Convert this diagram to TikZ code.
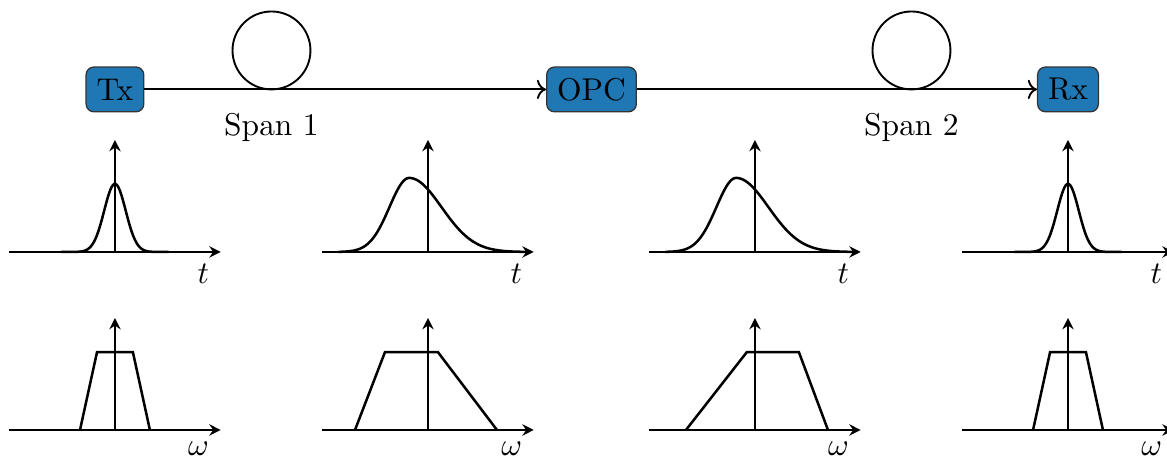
\documentclass[tikz,border=0pt]{standalone}
\usepackage{amsmath, amssymb}
\usepackage{tikz}
\usetikzlibrary{arrows.meta}
\definecolor{tabblue}{RGB}{31,119,180}

\begin{document}
\begin{tikzpicture}[
  block/.style={draw=black!80, fill=tabblue, rounded corners=2.5pt, minimum height=5mm},
  axis/.style={thick, -{Stealth[length=3.6pt, width=3.6pt, inset=1.2pt]}},
  pulse/.style={thick},
  link/.style={semithick, ->}
]
  \useasboundingbox (0,0) rectangle (13.025,5.1);
  % link
  \node[block] (tx) at (1.283,4.102) {Tx};
  \node[block] (opc) at (6.602,4.102) {OPC};
  \node[block] (rx) at (11.92,4.102) {Rx};
  \draw[link] (tx) -- (opc);
  \draw[link] (opc) -- (rx);
  % fibre spools
  \draw[semithick] (3.03,4.537) circle (0.435);
  \draw[semithick] (10.173,4.537) circle (0.435);
  \node (span1) at (3.03,3.683) {Span 1};
  \node (span2) at (10.173,3.683) {Span 2};
  % time domain, at Tx
  \begin{scope}[shift={(1.283,2.288)}]
    \draw[pulse] plot[domain=-0.6:0.6, samples=80] (\x,{0.76*exp(-((\x)^2)/0.0288)});
    \draw[axis] (-1.18,0) -- (1.18,0) node[below left] (t1) {$t$};
    \draw[axis] (0,0) -- (0,1.25);
  \end{scope}
  % time domain, after span 1 (skewed)
  \begin{scope}[shift={(4.777,2.288)}]
    \draw[pulse] plot[domain=-1.0:-0.21, samples=60] (\x,{0.826*exp(-((\x+0.21)^2)/0.0968)})
      -- plot[domain=-0.21:1.15, samples=90] (\x,{0.826*exp(-((\x+0.21)^2)/0.2592)});
    \draw[axis] (-1.18,0) -- (1.18,0) node[below left] (t2) {$t$};
    \draw[axis] (0,0) -- (0,1.25);
  \end{scope}
  % time domain, after OPC
  \begin{scope}[shift={(8.426,2.288)}]
    \draw[pulse] plot[domain=-1.0:-0.21, samples=60] (\x,{0.826*exp(-((\x+0.21)^2)/0.0968)})
      -- plot[domain=-0.21:1.15, samples=90] (\x,{0.826*exp(-((\x+0.21)^2)/0.2592)});
    \draw[axis] (-1.18,0) -- (1.18,0) node[below left] (t3) {$t$};
    \draw[axis] (0,0) -- (0,1.25);
  \end{scope}
  % time domain, at Rx
  \begin{scope}[shift={(11.92,2.288)}]
    \draw[pulse] plot[domain=-0.6:0.6, samples=80] (\x,{0.76*exp(-((\x)^2)/0.0288)});
    \draw[axis] (-1.18,0) -- (1.18,0) node[below left] (t4) {$t$};
    \draw[axis] (0,0) -- (0,1.25);
  \end{scope}
  % spectra
  \begin{scope}[shift={(1.283,0.301)}]
    \draw[pulse] (-0.39,0) -- (-0.2,0.87) -- (0.2,0.87) -- (0.39,0);
    \draw[axis] (-1.18,0) -- (1.18,0) node[below left] (w1) {$\omega$};
    \draw[axis] (0,0) -- (0,1.25);
  \end{scope}
  \begin{scope}[shift={(4.777,0.301)}]
    \draw[pulse] (-0.815,0) -- (-0.48,0.87) -- (0.11,0.87) -- (0.77,0);
    \draw[axis] (-1.18,0) -- (1.18,0) node[below left] (w2) {$\omega$};
    \draw[axis] (0,0) -- (0,1.25);
  \end{scope}
  \begin{scope}[shift={(8.426,0.301)}]
    \draw[pulse] (-0.77,0) -- (-0.09,0.87) -- (0.49,0.87) -- (0.815,0);
    \draw[axis] (-1.18,0) -- (1.18,0) node[below left] (w3) {$\omega$};
    \draw[axis] (0,0) -- (0,1.25);
  \end{scope}
  \begin{scope}[shift={(11.92,0.301)}]
    \draw[pulse] (-0.39,0) -- (-0.2,0.87) -- (0.2,0.87) -- (0.39,0);
    \draw[axis] (-1.18,0) -- (1.18,0) node[below left] (w4) {$\omega$};
    \draw[axis] (0,0) -- (0,1.25);
  \end{scope}
\end{tikzpicture}
\end{document}
